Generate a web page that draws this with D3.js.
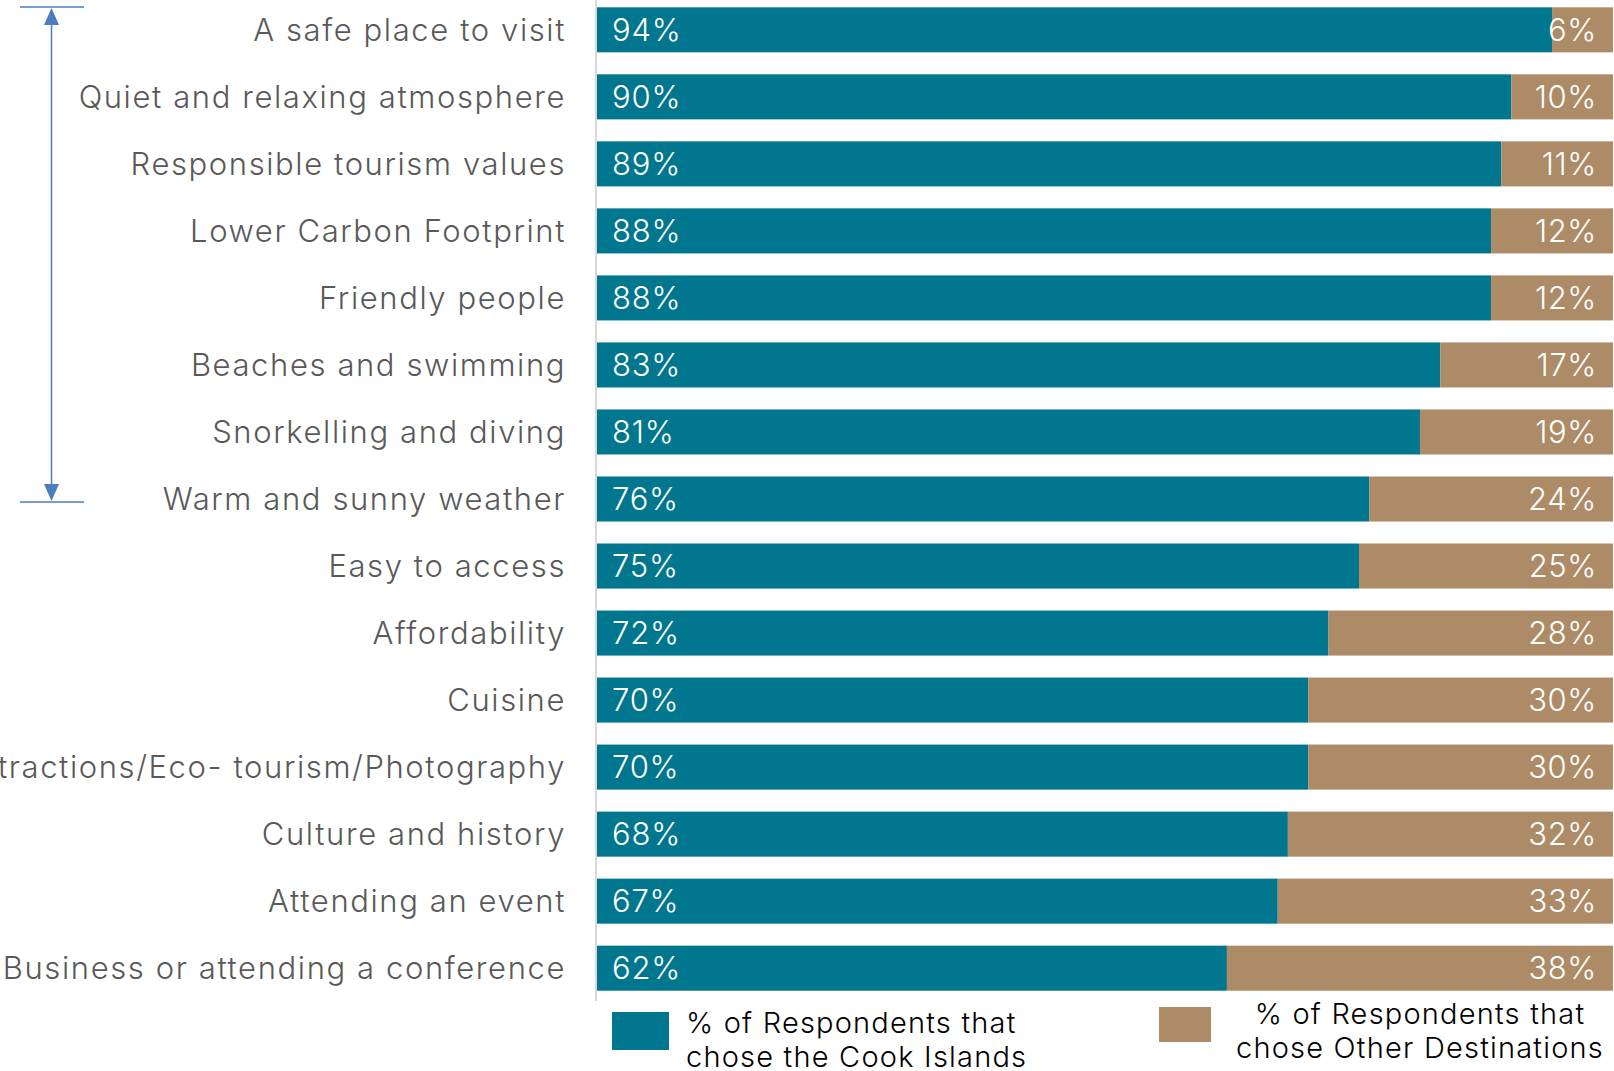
<!DOCTYPE html>
<html>
<head>
<meta charset="utf-8">
<script src="https://cdn.jsdelivr.net/npm/d3@7"></script>
<style>
  html, body { margin: 0; padding: 0; background: #ffffff; overflow: hidden; }
  svg { display: block; }
  text { font-family: Inter, "Noto Sans", sans-serif; font-weight: 300; }
</style>
</head>
<body>
<svg id="chart" width="1614" height="1071"></svg>
<script>
// Reasons for choosing a destination, share of respondents
const categories = [
  "A safe place to visit",
  "Quiet and relaxing atmosphere",
  "Responsible tourism values",
  "Lower Carbon Footprint",
  "Friendly people",
  "Beaches and swimming",
  "Snorkelling and diving",
  "Warm and sunny weather",
  "Easy to access",
  "Affordability",
  "Cuisine",
  "Nature attractions/Eco- tourism/Photography",
  "Culture and history",
  "Attending an event",
  "Business or attending a conference"
];
const cookIslands = [94, 90, 89, 88, 88, 83, 81, 76, 75, 72, 70, 70, 68, 67, 62];
const otherDestinations = [6, 10, 11, 12, 12, 17, 19, 24, 25, 28, 30, 30, 32, 33, 38];
const seriesNames = [
  ["% of Respondents that", "chose the Cook Islands"],
  ["% of Respondents that", "chose Other Destinations"]
];
const colors = ["#00768f", "#ad8b66"];

const svg = d3.select("#chart");

const x = d3.scaleLinear().domain([0, 100]).range([597, 1613]);
const y = d3.scaleBand().domain(categories).range([7.3, 990.7]).paddingInner(0.328).paddingOuter(0);

const rows = categories.map((c, i) => ({ cat: c, a: cookIslands[i], b: otherDestinations[i] }));

// category axis line
svg.append("line")
  .attr("x1", 596).attr("x2", 596)
  .attr("y1", 0).attr("y2", 1001)
  .attr("stroke", "#d9d9d9").attr("stroke-width", 2);

// stacked bars
const g = svg.append("g");
g.selectAll("rect.a").data(rows).join("rect")
  .attr("class", "a")
  .attr("x", x(0)).attr("y", d => y(d.cat))
  .attr("width", d => x(d.a) - x(0)).attr("height", y.bandwidth())
  .attr("fill", colors[0]);
g.selectAll("rect.b").data(rows).join("rect")
  .attr("class", "b")
  .attr("x", d => x(d.a)).attr("y", d => y(d.cat))
  .attr("width", d => x(d.a + d.b) - x(d.a)).attr("height", y.bandwidth())
  .attr("fill", colors[1]);

// value labels
g.selectAll("text.va").data(rows).join("text")
  .attr("class", "va")
  .attr("x", x(0) + 15).attr("y", d => y(d.cat) + y.bandwidth() / 2)
  .attr("dy", "0.36em")
  .attr("fill", "#ffffff").attr("font-size", 31).attr("letter-spacing", 0.8)
  .text(d => d.a + "%");
g.selectAll("text.vb").data(rows).join("text")
  .attr("class", "vb")
  .attr("x", x(100) - 16).attr("y", d => y(d.cat) + y.bandwidth() / 2)
  .attr("dy", "0.36em").attr("text-anchor", "end")
  .attr("fill", "#ffffff").attr("font-size", 31).attr("letter-spacing", 0.6)
  .text(d => d.b + "%");

// category labels
svg.append("g").selectAll("text").data(categories).join("text")
  .attr("x", 566).attr("y", d => y(d) + y.bandwidth() / 2)
  .attr("dy", "0.36em").attr("text-anchor", "end")
  .attr("fill", "#595959").attr("font-size", 31).attr("letter-spacing", 1.6)
  .text(d => d);

// bracket marking the top group of reasons
const topY = 7, botY = 502, ax = 51.5;
const br = svg.append("g").attr("stroke", "#4a7dbe").attr("fill", "#4a7dbe");
br.append("line").attr("x1", 20).attr("x2", 84).attr("y1", topY).attr("y2", topY).attr("stroke-width", 1.5);
br.append("line").attr("x1", 20).attr("x2", 84).attr("y1", botY).attr("y2", botY).attr("stroke-width", 1.5);
br.append("line").attr("x1", ax).attr("x2", ax).attr("y1", topY + 10).attr("y2", botY - 10).attr("stroke-width", 1.5);
br.append("path").attr("stroke", "none")
  .attr("d", `M${ax},${topY + 1} L${ax - 7.5},${topY + 18} L${ax + 7.5},${topY + 18} Z`);
br.append("path").attr("stroke", "none")
  .attr("d", `M${ax},${botY - 1} L${ax - 7.5},${botY - 18} L${ax + 7.5},${botY - 18} Z`);

// legend
const lg = svg.append("g");
lg.append("rect").attr("x", 612).attr("y", 1012).attr("width", 57).attr("height", 38).attr("fill", colors[0]);
lg.append("text").attr("fill", "#000000").attr("font-size", 29).attr("letter-spacing", 1.2)
  .selectAll("tspan").data(seriesNames[0]).join("tspan")
  .attr("x", 686).attr("y", (d, i) => 1033 + i * 34).text(d => d);
lg.append("rect").attr("x", 1159).attr("y", 1007).attr("width", 52).attr("height", 35).attr("fill", colors[1]);
lg.append("text").attr("fill", "#000000").attr("font-size", 29).attr("letter-spacing", 1.2).attr("text-anchor", "middle")
  .selectAll("tspan").data(seriesNames[1]).join("tspan")
  .attr("x", 1420).attr("y", (d, i) => 1024 + i * 34).text(d => d);
</script>
</body>
</html>
